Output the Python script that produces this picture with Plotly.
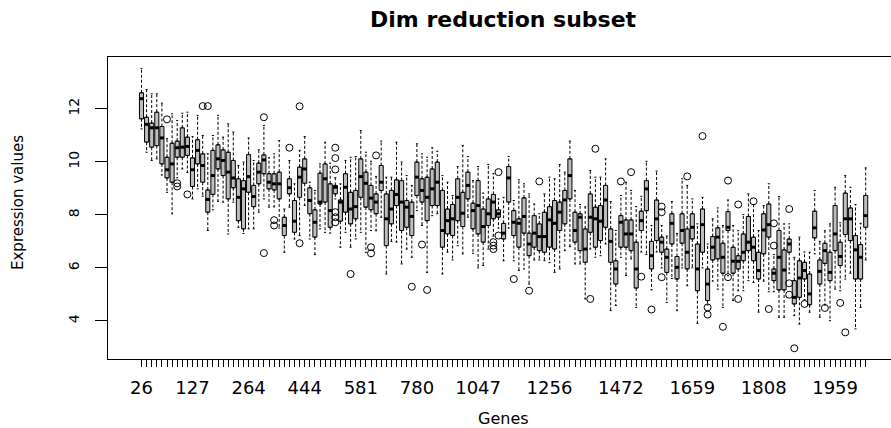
import plotly.graph_objects as go

# ---- data ----
lo = [11.24,10.36,10.05,10.11,9.5,8.85,8.04,9.4,9.73,9.6,8.6,8.98,8.7,7.41,8.19,8.51,8.48,7.28,8.48,7.53,
      7.3,7.47,7.47,8.1,8.6,8.29,8.3,7.5,6.59,8.29,7.09,7.22,8.35,7.09,6.5,7.47,7.34,7.31,8.6,6.78,
      7.34,6.78,7.09,7.34,6.59,7.41,7.4,7.91,5.77,7.0,6.97,6.15,6.71,6.4,8.16,7.6,5.83,7.97,8.04,5.77,
      6.59,6.3,6.84,6.53,7.91,6.55,6.0,6.09,6.71,7.2,7.5,6.27,7.5,6.27,5.9,5.96,5.39,6.3,6.3,6.27,
      6.2,5.83,5.96,6.65,6.8,6.15,6.15,4.83,6.71,6.4,6.46,6.9,4.39,4.58,6.4,5.71,6.34,4.51,6.6,6.5,
      5.17,6.6,6.0,4.7,5.6,4.39,6.0,5.33,6.0,3.91,6.0,4.6,5.5,5.2,4.51,5.7,4.77,5.14,5.14,5.52,
      5.45,4.33,5.5,5.1,5.1,4.14,4.14,5.8,4.2,3.88,4.8,4.33,6.53,4.14,4.6,4.01,5.2,5.14,5.58,5.8,
      3.7,4.51,6.3]
q1 = [11.62,10.74,10.55,10.61,9.92,9.39,9.23,10.17,10.17,10.24,9.07,9.92,9.23,8.1,8.77,9.73,9.48,8.6,9.02,7.78,
      7.47,8.85,8.31,9.17,9.55,8.98,8.94,8.6,7.22,8.79,7.34,8.66,9.19,8.04,7.16,8.41,8.48,7.53,8.79,7.76,
      8.1,7.66,7.85,8.66,8.29,8.19,8.04,8.92,6.84,7.66,8.35,7.41,7.53,7.22,8.73,8.48,7.78,8.35,8.35,6.78,
      7.28,7.22,7.78,7.56,8.6,7.47,7.28,6.97,7.6,7.85,7.91,7.09,8.48,7.22,6.78,7.31,6.46,6.78,6.65,6.59,
      6.78,6.71,7.41,7.66,8.6,6.97,6.65,6.21,7.34,6.78,7.03,7.53,6.21,5.39,6.78,6.78,6.65,5.24,7.41,8.16,
      5.96,7.03,6.59,5.83,6.9,5.58,6.93,5.96,7.09,5.14,6.59,4.77,6.3,6.34,5.8,7.41,5.8,5.96,6.27,6.65,
      6.27,5.58,6.53,7.16,5.52,5.17,5.17,6.59,4.64,4.89,5.58,4.61,7.13,5.39,6.17,5.52,6.65,6.09,7.26,7.03,
      5.58,5.58,7.53]
med = [12.38,11.41,11.28,11.28,10.9,9.7,9.92,10.53,10.55,10.58,9.7,10.43,9.86,8.58,9.48,10.11,10.05,9.61,9.39,8.66,
       8.98,9.44,8.69,9.61,10.07,9.23,9.17,9.17,7.6,9.02,7.76,9.42,9.73,8.54,7.72,8.48,9.36,8.16,9.04,8.48,
       9.04,8.22,8.31,9.44,9.19,8.63,8.48,9.23,7.85,8.22,8.77,8.48,8.29,7.94,9.42,8.92,8.66,8.98,9.23,7.41,
       7.78,7.85,8.66,8.06,9.11,8.16,8.35,7.56,8.04,8.48,8.04,7.31,9.39,7.72,7.68,7.94,6.9,7.31,7.18,7.18,
       7.81,7.68,8.1,8.56,9.48,7.41,7.91,6.71,7.91,7.85,7.76,8.56,7.0,5.96,7.72,7.28,7.28,5.96,7.78,8.98,
       6.46,7.85,6.97,6.4,7.68,6.02,7.41,6.59,7.53,5.96,7.63,5.39,6.78,7.16,6.4,7.53,6.25,6.25,6.59,6.97,
       6.78,5.9,7.43,7.63,5.8,6.4,5.92,6.9,4.89,5.62,5.9,5.02,7.51,5.87,6.65,5.83,7.28,6.43,7.85,7.85,
       6.68,6.4,7.97]
q3 = [12.6,11.68,11.46,11.87,11.33,10.17,10.7,10.78,11.28,10.93,10.15,10.83,10.3,8.94,10.43,10.64,10.45,10.36,10.05,9.36,
      9.29,10.27,9.11,9.95,10.26,9.55,9.55,9.61,7.91,9.36,8.54,9.8,10.11,9.02,8.19,9.57,9.92,9.17,9.11,8.56,
      9.55,8.85,8.92,10.11,9.61,9.11,8.79,9.86,8.79,8.92,9.32,9.29,8.54,8.48,9.99,9.36,9.42,9.73,9.99,8.92,
      8.22,8.39,9.36,8.85,9.61,8.44,9.29,8.22,8.6,8.77,8.19,7.68,9.82,8.16,7.85,8.64,7.31,7.97,7.66,8.1,
      8.31,8.54,8.48,8.92,10.11,8.1,8.04,7.47,8.79,8.29,8.35,9.11,7.47,6.27,7.97,7.81,7.81,6.97,8.14,9.29,
      7.0,8.56,7.16,6.71,8.04,6.43,8.04,7.47,8.04,6.9,8.22,5.96,7.18,7.51,6.93,8.12,6.78,6.46,7.28,7.94,
      7.16,6.59,8.04,8.41,5.96,7.41,6.68,7.09,5.52,6.27,6.21,5.77,8.14,6.3,6.93,6.59,8.35,6.97,8.82,8.26,
      7.22,6.88,8.73]
hi = [13.51,12.72,12.56,12.56,12.21,10.87,11.81,11.56,11.83,11.87,10.95,11.75,10.99,10.3,10.99,11.75,10.93,11.43,11.12,9.86,
      9.99,10.9,10.05,10.45,11.37,10.15,10.3,10.8,8.22,10.05,9.17,10.43,10.95,9.23,8.92,9.92,10.74,9.95,9.4,9.17,
      10.05,10.17,10.2,11.18,10.36,10.02,9.45,10.78,9.42,9.42,10.74,9.99,9.48,9.11,10.68,10.3,10.17,10.53,10.4,9.48,
      9.23,8.73,9.82,10.61,10.2,9.29,9.82,8.82,9.9,9.55,8.6,8.66,10.2,8.54,9.32,9.17,8.79,8.41,8.04,8.79,
      9.42,9.36,9.9,9.61,10.78,8.92,8.39,8.3,9.67,9.42,9.42,10.11,8.5,7.41,8.73,9.23,8.92,8.31,8.7,10.02,
      7.6,9.65,7.6,7.2,8.5,7.3,9.36,9.11,8.6,7.66,8.66,6.9,7.85,8.26,7.6,8.56,7.6,7.4,8.01,8.79,
      8.39,7.41,8.35,9.17,6.5,8.69,7.66,7.66,6.4,7.16,6.6,6.59,8.92,7.0,7.4,7.66,9.04,7.7,9.48,9.04,
      8.39,7.68,9.77]
out_box = [6,8,8,10,13,14,25,25,27,27,30,32,32,39,39,39,39,39,39,42,46,46,47,54,56,57,70,70,70,71,71,74,77,79,
           89,90,95,97,99,101,103,103,103,108,111,112,112,115,116,116,118,118,121,124,125,125,128,128,128,129,
           131,135,138,139]
out_val = [11.6,9.19,9.07,8.77,12.1,12.1,11.68,6.56,7.8,7.6,10.53,12.09,6.93,10.53,10.14,9.71,8.1,7.91,7.72,5.77,
           6.55,6.78,10.24,5.29,6.88,5.17,6.97,6.84,6.71,9.61,7.22,5.58,5.14,9.26,
           4.83,10.49,9.26,9.61,5.67,4.43,8.31,8.1,5.65,9.45,10.97,4.51,4.24,3.78,9.29,5.65,8.39,4.83,8.51,4.45,
           7.68,6.84,8.22,5.42,4.99,2.97,4.64,4.49,4.68,3.57]
label_pos = [1, 11, 22, 33, 44, 55, 67, 81, 95, 109, 123, 137]
label_txt = ["26", "127", "264", "444", "581", "780", "1047", "1256", "1472", "1659", "1808", "1959"]
y_ticks = [4, 6, 8, 10, 12]

n = len(med)
pos = list(range(1, n + 1))
ticktext = [""] * n
for p, t in zip(label_pos, label_txt):
    ticktext[p - 1] = t

BW = 0.8
fig = go.Figure()

# whiskers (dashed)
wx, wy = [], []
for x, a, b, c, d in zip(pos, lo, q1, q3, hi):
    wx += [x, x, None, x, x, None]
    wy += [c, d, None, b, a, None]
fig.add_trace(go.Scatter(x=wx, y=wy, mode="lines", line=dict(color="black", width=1, dash="3px,2px"),
                         hoverinfo="skip", showlegend=False))
# staples
sx, sy = [], []
for x, a, d in zip(pos, lo, hi):
    sx += [x - BW / 4, x + BW / 4, None, x - BW / 4, x + BW / 4, None]
    sy += [d, d, None, a, a, None]
fig.add_trace(go.Scatter(x=sx, y=sy, mode="lines", line=dict(color="black", width=1),
                         hoverinfo="skip", showlegend=False))
# boxes
fig.add_trace(go.Box(x=pos, q1=q1, median=med, q3=q3, lowerfence=q1, upperfence=q3,
                     width=BW, fillcolor="#bebebe", line=dict(color="black", width=1),
                     boxpoints=False, hoverinfo="skip", showlegend=False))
# thick medians
mx, my = [], []
for x, m in zip(pos, med):
    mx += [x - BW / 2, x + BW / 2, None]
    my += [m, m, None]
fig.add_trace(go.Scatter(x=mx, y=my, mode="lines", line=dict(color="black", width=3),
                         hoverinfo="skip", showlegend=False))
# outliers
fig.add_trace(go.Scatter(x=out_box, y=out_val, mode="markers",
                         marker=dict(symbol="circle-open", size=7, color="black", line=dict(width=1)),
                         hoverinfo="skip", showlegend=False))

L, T, B = 108, 57, 69
W, H = 891, 428
pw = W - L
ph = H - T - B
px_per = 5.1
x0 = 1 - (141 - 107.5) / px_per
x1 = x0 + pw / px_per

fig.update_layout(
    width=W, height=H, margin=dict(l=L, r=0, t=T, b=B, pad=0),
    paper_bgcolor="white", plot_bgcolor="white",
    font=dict(family="DejaVu Sans", color="black"),
    xaxis=dict(range=[x0, x1], tickmode="array", tickvals=pos, ticktext=ticktext,
               ticks="outside", ticklen=7, tickwidth=1, tickcolor="black",
               showline=True, linecolor="black", linewidth=1, mirror=True,
               showgrid=False, zeroline=False, tickangle=0,
               tickfont=dict(size=18, family="DejaVu Sans", color="black"), ticklabelstandoff=5),
    yaxis=dict(range=[2.566, 13.95], tickmode="array", tickvals=y_ticks,
               ticktext=[str(v) for v in y_ticks],
               ticks="outside", ticklen=12, tickwidth=1, tickcolor="black",
               showline=True, linecolor="black", linewidth=1,
               showgrid=False, zeroline=False, tickangle=-90,
               tickfont=dict(size=14, family="DejaVu Sans", color="black"), ticklabelstandoff=10),
)

def px2x(p):
    return (p - L) / pw

def py2y(p):
    return (H - B - p) / ph

fig.add_annotation(text="<b>Dim reduction subset</b>", x=px2x(503), y=py2y(20), xref="paper", yref="paper",
                   showarrow=False, font=dict(size=22, family="DejaVu Sans", color="black"),
                   xanchor="center", yanchor="middle")
fig.add_annotation(text="Genes", x=px2x(503), y=py2y(418), xref="paper", yref="paper",
                   showarrow=False, font=dict(size=16, family="DejaVu Sans", color="black"),
                   xanchor="center", yanchor="middle")
fig.add_annotation(text="Expression values", x=px2x(18), y=py2y(203), xref="paper", yref="paper",
                   showarrow=False, textangle=-90, font=dict(size=15, family="DejaVu Sans", color="black"),
                   xanchor="center", yanchor="middle")

fig.write_html("out.html")
